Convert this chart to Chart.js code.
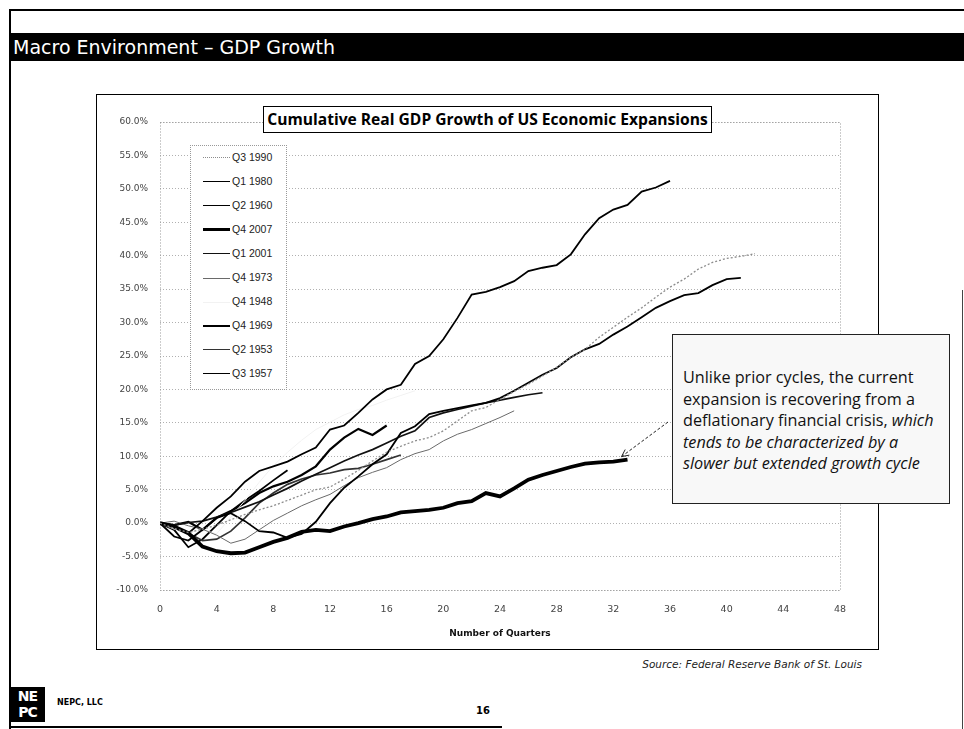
<!DOCTYPE html>
<html>
<head>
<meta charset="utf-8">
<title>Macro Environment – GDP Growth</title>
<script src="https://cdn.jsdelivr.net/npm/chart.js@4.4.1/dist/chart.umd.min.js"></script>
<style>
  body { margin: 0; width: 964px; height: 729px; background: #fff; position: relative; overflow: hidden; font-family: "DejaVu Sans", sans-serif; }
  .page-top { position: absolute; left: 9px; top: 9px; width: 955px; height: 2px; background: #000; }
  .page-left { position: absolute; left: 9px; top: 9px; width: 2px; height: 720px; background: #000; }
  .page-right { position: absolute; left: 962px; top: 290px; width: 1px; height: 439px; background: #444; }
  .header { position: absolute; left: 10px; top: 33px; width: 951px; height: 28px; background: #000; color: #fff; font-size: 19px; line-height: 28px; padding-left: 3px; }
  .frame { position: absolute; left: 96px; top: 94px; width: 783px; height: 556px; border: 1.5px solid #000; box-sizing: border-box; }
  #gdpChart { position: absolute; left: 97px; top: 95px; }
  .chart-title { position: absolute; left: 263px; top: 106px; width: 449px; height: 27px; box-sizing: border-box; border: 1px solid #000; background: #fff; font: bold 15.6px "Open Sans", sans-serif; text-align: center; line-height: 25px; white-space: nowrap; }
  .legend-box { position: absolute; left: 190px; top: 145px; width: 97px; height: 245px; box-sizing: border-box; border: 1px dotted #999; background: #fff; }
  .legend-row { position: absolute; left: 0; height: 24px; width: 97px; }
  .legend-line { position: absolute; left: 12px; width: 27px; top: 12px; }
  .legend-text { position: absolute; left: 41px; top: 5px; font: 10.5px "Liberation Sans", sans-serif; color: #222; }
  .note { position: absolute; left: 672px; top: 334px; width: 278px; height: 170px; box-sizing: border-box; border: 1px solid #222; background: #f8f8f8; padding: 32px 0 0 10px; font: 16.2px "Open Sans", sans-serif; line-height: 21.5px; color: #111; white-space: nowrap; }
  .note i { font-style: italic; }
  .source { position: absolute; right: 102px; top: 658px; font: italic 10.5px "DejaVu Sans", sans-serif; color: #222; }
  .logo { position: absolute; left: 10px; top: 687px; width: 35px; height: 35px; background: #000; color: #fff; font: bold 14px "DejaVu Sans", sans-serif; line-height: 16px; text-align: center; letter-spacing: -1px; padding-top: 1px; box-sizing: border-box; }
  .company { position: absolute; left: 57px; top: 698px; font: bold 8px "DejaVu Sans", sans-serif; }
  .page-num { position: absolute; left: 476px; top: 705px; font: bold 10px "DejaVu Sans", sans-serif; }
  .page-bottom { position: absolute; left: 10px; top: 726px; width: 492px; height: 2px; background: #000; }
</style>
</head>
<body>
<div class="page-top"></div>
<div class="page-left"></div>
<div class="page-right"></div>
<div class="header">Macro Environment – GDP Growth</div>
<div class="frame"></div>
<canvas id="gdpChart" width="780" height="553"></canvas>
<div class="chart-title">Cumulative Real GDP Growth of US Economic Expansions</div>
<div class="legend-box" id="legendBox"></div>
<div class="note">Unlike prior cycles, the current<br>expansion is recovering from a<br>deflationary financial crisis, <i>which</i><br><i>tends to be characterized by a</i><br><i>slower but extended growth cycle</i></div>
<div class="source">Source: Federal Reserve Bank of St. Louis</div>
<div class="logo">NE<br>PC</div>
<div class="company">NEPC, LLC</div>
<div class="page-num">16</div>
<div class="page-bottom"></div>

<script>
//! Data (cumulative % growth from the cycle peak, by quarter)
const seriesNames = ['Q3 1990', 'Q1 1980', 'Q2 1960', 'Q4 2007', 'Q1 2001', 'Q4 1973', 'Q4 1948', 'Q4 1969', 'Q2 1953', 'Q3 1957'];

const q3_1990 = [0, -0.8, -1.4, -0.9, -0.3, 0.5, 1.3, 2.0, 2.6, 3.4,
    4.2, 5.0, 5.4, 6.6, 7.9, 9.3, 10.6, 11.5, 12.3, 12.8,
    13.8, 15.3, 16.8, 17.3, 18.5, 19.7, 20.8, 22.0, 23.3, 24.8,
    26.0, 27.8, 29.3, 30.8, 32.2, 33.8, 35.3, 36.5, 38.0, 39.0,
    39.6, 39.9, 40.3];
const q1_1980 = [0, -2.0, -2.6, -1.0, 0.8, 1.5, 0.3, -1.2, -1.4, -2.2,
    -1.6, 0.2, 3.0, 5.3, 7.0, 8.8, 10.3, 13.5, 14.5, 16.3,
    16.8, 17.2, 17.6, 18.0, 18.7, 19.8, 21.0, 22.2, 23.2, 24.8,
    26.0, 26.8, 28.2, 29.4, 30.8, 32.2, 33.2, 34.1, 34.4, 35.6,
    36.5, 36.7];
const q2_1960 = [0, -0.6, -1.5, 0.3, 2.3, 4.0, 6.2, 7.8, 8.5, 9.2,
    10.3, 11.3, 14.0, 14.6, 16.5, 18.5, 20.0, 20.7, 23.8, 25.0,
    27.5, 30.7, 34.2, 34.6, 35.3, 36.2, 37.7, 38.2, 38.6, 40.2,
    43.2, 45.6, 46.9, 47.6, 49.6, 50.2, 51.2];
const q4_2007 = [0, -0.5, -1.5, -3.5, -4.2, -4.5, -4.4, -3.6, -2.8, -2.2,
    -1.3, -1.0, -1.2, -0.5, 0.0, 0.6, 1.0, 1.6, 1.8, 2.0,
    2.3, 3.0, 3.3, 4.5, 4.0, 5.2, 6.5, 7.2, 7.8, 8.4,
    8.9, 9.1, 9.2, 9.5];
const q1_2001 = [0, -0.3, 0.1, 0.3, 0.9, 1.6, 2.4, 3.2, 4.2, 5.2,
    6.3, 7.3, 8.3, 9.3, 10.2, 11.0, 12.0, 13.0, 13.8, 15.8,
    16.5, 17.0, 17.5, 18.0, 18.4, 18.8, 19.2, 19.5];
const q4_1973 = [0, 0.3, -0.4, -0.9, -1.8, -3.0, -2.4, -1.0, 0.4, 1.5,
    2.6, 3.5, 4.3, 5.6, 6.8, 7.6, 8.3, 9.5, 10.4, 11.0,
    12.3, 13.3, 14.0, 14.9, 15.8, 16.8];
const q4_1948 = [0, -0.9, -1.4, -1.0, -1.6, 0.9, 3.4, 6.1, 8.6, 10.6,
    12.4, 14.0, 15.1, 16.2, 17.0, 17.6, 18.4, 19.1, 19.8];
const q4_1969 = [0, -0.3, 0.2, -1.0, 0.8, 1.8, 3.0, 4.5, 5.5, 6.2,
    7.2, 8.5, 11.0, 12.8, 14.1, 13.2, 14.6];
const q2_1953 = [0, -0.5, -1.5, -2.6, -2.4, -1.2, 0.8, 3.0, 4.5, 5.8,
    6.6, 7.2, 7.5, 8.0, 8.2, 8.8, 9.5, 10.2];
const q3_1957 = [0, -1.0, -3.6, -2.4, -0.3, 1.8, 3.4, 4.8, 6.4, 7.9];

const seriesData = [q3_1990, q1_1980, q2_1960, q4_2007, q1_2001, q4_1973, q4_1948, q4_1969, q2_1953, q3_1957];

// axis ticks
const xTickStep = 4, xMin = 0, xMax = 48;
const yTickStep = 5, yMin = -10, yMax = 60;

//! line looks (same order as the names)
const lineStyles = [
    { color: '#8c8c8c', width: 1.3, dash: [2, 2] },
    { color: '#000', width: 1.8, dash: [] },
    { color: '#000', width: 1.8, dash: [] },
    { color: '#000', width: 3.8, dash: [] },
    { color: '#111', width: 1.7, dash: [] },
    { color: '#6a6a6a', width: 1, dash: [] },
    { color: '#f2f2f2', width: 1, dash: [] },
    { color: '#000', width: 2.2, dash: [] },
    { color: '#333', width: 1.7, dash: [] },
    { color: '#000', width: 1.8, dash: [] },
];

const datasets = seriesNames.map((name, i) => ({
    label: name,
    data: seriesData[i].map((v, q) => ({ x: q, y: v })),
    borderColor: lineStyles[i].color,
    borderWidth: lineStyles[i].width,
    borderDash: lineStyles[i].dash,
    pointRadius: 0,
    tension: 0,
    fill: false,
}));

//! dotted frame around the plot
const plotFrame = {
    id: 'plotFrame',
    beforeDatasetsDraw(chart) {
        const { ctx, chartArea: { left, right, top, bottom } } = chart;
        ctx.save();
        ctx.setLineDash([1, 2]);
        ctx.strokeStyle = '#999';
        ctx.lineWidth = 1;
        ctx.strokeRect(left + 0.5, top + 0.5, right - left, bottom - top);
        ctx.restore();
    }
};

//! dashed arrow from the note to the end of the current cycle
const noteArrow = {
    id: 'noteArrow',
    afterDatasetsDraw(chart) {
        const meta = chart.getDatasetMeta(3);
        const last = meta.data[meta.data.length - 1];
        const ctx = chart.ctx;
        const tipX = last.x - 6, tipY = last.y - 3;
        const tailX = 571, tailY = 327; // left side of the note box
        const ang = Math.atan2(tipY - tailY, tipX - tailX);
        ctx.save();
        ctx.strokeStyle = '#222';
        ctx.lineWidth = 1;
        ctx.setLineDash([3, 2]);
        ctx.beginPath();
        ctx.moveTo(tailX, tailY);
        ctx.lineTo(tipX, tipY);
        ctx.stroke();
        ctx.setLineDash([]);
        ctx.beginPath();
        ctx.moveTo(tipX - 8 * Math.cos(ang - 0.45), tipY - 8 * Math.sin(ang - 0.45));
        ctx.lineTo(tipX, tipY);
        ctx.lineTo(tipX - 8 * Math.cos(ang + 0.45), tipY - 8 * Math.sin(ang + 0.45));
        ctx.stroke();
        ctx.restore();
    }
};

const ctx = document.getElementById('gdpChart');
const gdpChart = new Chart(ctx, {
    type: 'line',
    data: { datasets },
    options: {
        responsive: false,
        animation: false,
        layout: {
            padding: { left: 8, right: 37, top: 27, bottom: 9 }
        },
        plugins: {
            legend: { display: false },
            title: { display: false },
            tooltip: { enabled: false },
        },
        scales: {
            x: {
                type: 'linear',
                min: xMin,
                max: xMax,
                grid: { display: false },
                border: { display: false },
                ticks: {
                    stepSize: xTickStep,
                    color: '#444',
                    font: { family: 'DejaVu Sans', size: 9.5 },
                    padding: 6,
                },
                title: {
                    display: true,
                    text: 'Number of Quarters',
                    color: '#111',
                    font: { family: 'DejaVu Sans', size: 9, weight: 'bold' },
                    padding: 0,
                },
                afterFit(scale) { scale.height = 49; },
            },
            y: {
                min: yMin,
                max: yMax,
                grid: { color: '#b0b0b0', drawTicks: false },
                border: { display: false, dash: [1, 2] },
                ticks: {
                    stepSize: yTickStep,
                    color: '#444',
                    font: { family: 'DejaVu Sans', size: 9 },
                    padding: 12,
                    callback: (v) => v.toFixed(1) + '%',
                },
                afterFit(scale) { scale.width = 55; },
            },
        },
    },
    plugins: [plotFrame, noteArrow],
});

//! legend (built from the chart's datasets)
const legendBox = document.getElementById('legendBox');
gdpChart.data.datasets.forEach((ds, i) => {
    const row = document.createElement('div');
    row.className = 'legend-row';
    row.style.top = (i * 24) + 'px';
    const line = document.createElement('div');
    line.className = 'legend-line';
    const style = ds.borderDash.length ? 'dotted' : 'solid';
    line.style.borderTop = `${ds.borderWidth}px ${style} ${ds.borderColor}`;
    line.style.marginTop = (-ds.borderWidth / 2) + 'px';
    const text = document.createElement('div');
    text.className = 'legend-text';
    text.textContent = ds.label;
    row.appendChild(line);
    row.appendChild(text);
    legendBox.appendChild(row);
});
</script>
</body>
</html>
